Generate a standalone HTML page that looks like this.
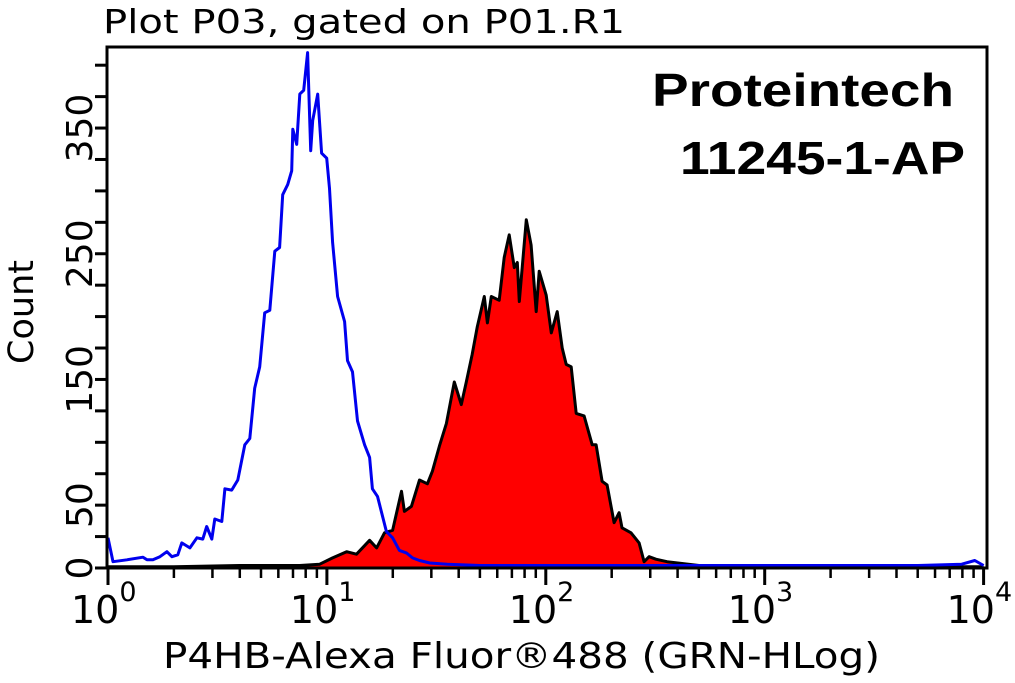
<!DOCTYPE html>
<html><head><meta charset="utf-8"><style>
html,body{margin:0;padding:0;background:#fff;}
svg{display:block;font-family:"DejaVu Sans","Liberation Sans",sans-serif;}
</style></head><body>
<svg id="chart" width="1015" height="683" viewBox="0 0 1015 683" xmlns="http://www.w3.org/2000/svg">
<text x="103" y="33" font-size="33" textLength="522" lengthAdjust="spacingAndGlyphs">Plot P03, gated on P01.R1</text>
<text x="652" y="106" font-size="46" font-weight="bold" font-family="Liberation Sans, sans-serif" textLength="302" lengthAdjust="spacingAndGlyphs">Proteintech</text>
<text x="680" y="174" font-size="46" font-weight="bold" font-family="Liberation Sans, sans-serif" textLength="285" lengthAdjust="spacingAndGlyphs">11245-1-AP</text>
<text transform="translate(33,312) rotate(-90)" text-anchor="middle" font-size="35">Count</text>
<text x="163" y="668" font-size="36" textLength="717" lengthAdjust="spacingAndGlyphs">P4HB-Alexa Fluor®488 (GRN-HLog)</text>
<g id="series"></g>
<g id="axes"></g>
</svg>
<script>
const blueLog=[0,0.023,0.087,0.16,0.178,0.205,0.237,0.269,0.292,0.319,0.337,0.374,0.406,0.433,0.451,0.474,0.488,0.52,0.534,0.565,0.593,0.625,0.648,0.67,0.693,0.716,0.739,0.762,0.784,0.798,0.821,0.839,0.844,0.862,0.876,0.894,0.912,0.926,0.935,0.958,0.976,0.999,1.012,1.026,1.049,1.081,1.094,1.117,1.14,1.172,1.195,1.208,1.231,1.272,1.3,1.331,1.363,1.391,1.423,1.47,1.55,1.7,1.9,2.1,2.3,2.5,2.8,3.1,3.4,3.7,3.9,3.96,4.0];
const blueCount=[24,5,6.5,8.6,6.5,6.5,9,13,9,10.5,20,16,24,23,33,23,39,37,63,62,70,98,103,143,160,203,205,252,255,297,305,316,349,337,377,380,410,332,356,377,330,326,302,259,216,196,165,156,117,98,88,63,57,29,24,14,12,8,6,4,3,2,2,2,2,2,2,2,2,2,3,6,2];
const redLog=[0,0.3,0.6,0.876,0.967,1.026,1.09,1.135,1.195,1.227,1.263,1.3,1.341,1.354,1.386,1.423,1.459,1.482,1.514,1.546,1.582,1.614,1.637,1.664,1.687,1.719,1.733,1.751,1.787,1.81,1.833,1.856,1.87,1.879,1.911,1.933,1.956,1.97,2.002,2.025,2.052,2.075,2.093,2.116,2.139,2.175,2.212,2.23,2.257,2.28,2.312,2.335,2.348,2.389,2.426,2.449,2.472,2.503,2.554,2.7,3.0,3.5,4.0];
const redCount=[1,1,2,2,3,8,13,11,22,16,28,30,61,45,49,70,67,77,97,115,148,130,148,170,192,216,195,216,213,247,265,239,243,212,277,257,204,236,217,187,204,175,162,160,123,121,98,98,69,66,36,44,32,28,20,5,9,7,5,2,1,1,1];
const yTicks=[0,25,50,75,100,125,150,175,200,225,250,275,300,325,350,375,400];
const yLabels=[0,50,150,250,350];
const xDecades=[0,1,2,3,4];

const NS="http://www.w3.org/2000/svg";
const X0=108,DEC=218.9,Y0=568,PPC=1.257,TOP=47,RIGHT=987;
const xs=l=>X0+l*DEC, ys=c=>Y0-c*PPC;
function mk(tag,attrs,parent){const e=document.createElementNS(NS,tag);for(const k in attrs)e.setAttribute(k,attrs[k]);parent.appendChild(e);return e;}
const series=document.getElementById('series'),axes=document.getElementById('axes');

let rp='M'+xs(redLog[0])+','+Y0;
redLog.forEach((l,i)=>{rp+=' L'+xs(l).toFixed(1)+','+ys(redCount[i]).toFixed(1);});
rp+=' L'+xs(redLog[redLog.length-1])+','+Y0+' Z';
const rf=mk('path',{d:rp,fill:'#ff0000',stroke:'none'},series);


let rl=redLog.map((l,i)=>(i?'L':'M')+xs(l).toFixed(1)+','+ys(redCount[i]).toFixed(1)).join(' ');
const rs=mk('path',{d:rl,fill:'none',stroke:'#000','stroke-width':3,'stroke-linejoin':'round'},series);


let bl=blueLog.map((l,i)=>(i?'L':'M')+xs(l).toFixed(1)+','+ys(blueCount[i]).toFixed(1)).join(' ');
const bs=mk('path',{d:bl,fill:'none',stroke:'#0000ee','stroke-width':3,'stroke-linejoin':'round'},series);



const fr=mk('rect',{x:X0-1,y:TOP,width:RIGHT-X0+1,height:Y0-TOP,fill:'none',stroke:'#000','stroke-width':3},axes);



yTicks.forEach(v=>{
  const t=mk('line',{x1:X0-13,x2:X0,y1:ys(v),y2:ys(v),stroke:'#000','stroke-width':3},axes);
  
  
});
yLabels.forEach(v=>{
  const t=mk('text',{transform:'translate(92,'+ys(v)+') rotate(-90)','text-anchor':'middle','font-size':36},axes);
  t.textContent=String(v);
  
  
});
xDecades.forEach(d=>{
  const t=mk('line',{x1:xs(d),x2:xs(d),y1:Y0,y2:Y0+17,stroke:'#000','stroke-width':3},axes);
  
  
  if(d<4){for(let m=2;m<=9;m++){
    const mt=mk('line',{x1:xs(d+Math.log10(m)),x2:xs(d+Math.log10(m)),y1:Y0,y2:Y0+10,stroke:'#000','stroke-width':2.5},axes);
    
    
  }}
  const lb=mk('text',{x:xs(d)-37,y:623,'font-size':38},axes);
  
  
  lb.appendChild(document.createTextNode('10'));
  const sp=mk('tspan',{dy:-22,'font-size':27},lb);
  sp.textContent=String(d);
});
</script>
</body></html>
